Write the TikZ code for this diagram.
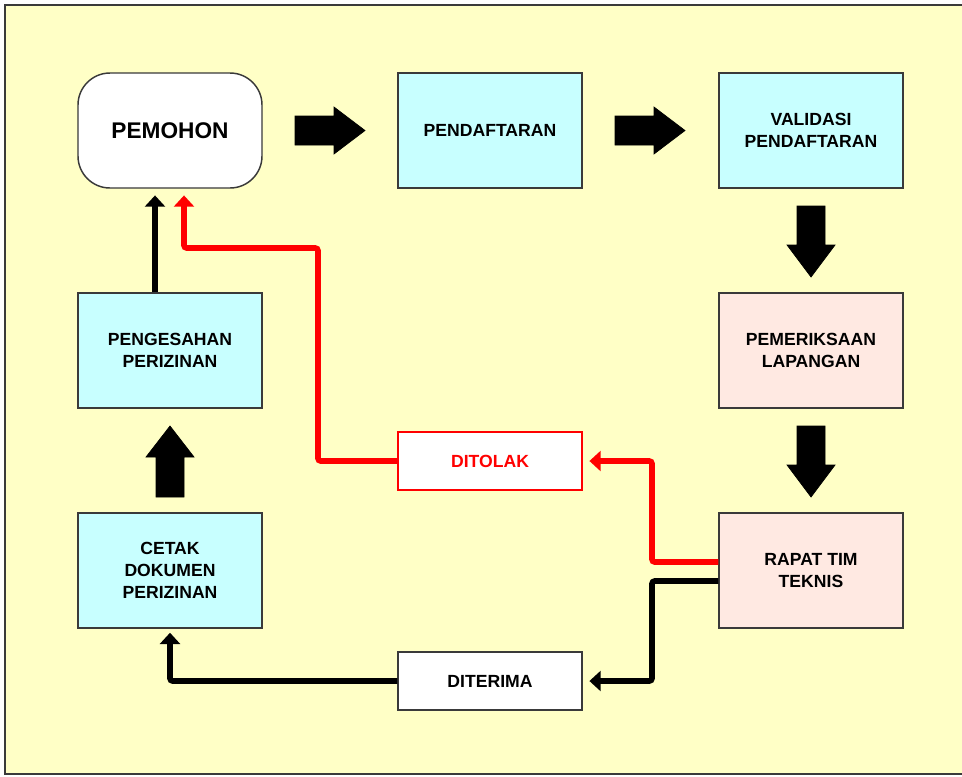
\documentclass[tikz,border=0pt]{standalone}
\usepackage{fontspec}
\setmainfont{Liberation Sans}
\usetikzlibrary{arrows.meta}
\definecolor{bgyellow}{HTML}{FFFFC6}
\definecolor{boxcyan}{HTML}{C8FFFF}
\definecolor{boxpink}{HTML}{FFE9E2}
\definecolor{edgegray}{HTML}{3A3A3A}
\definecolor{linered}{HTML}{FF0000}
\tikzset{
  box/.style={draw=edgegray, line width=1.1pt, minimum width=138pt, minimum height=86.25pt,
    align=center, inner sep=2pt, font=\bfseries\fontsize{13.2}{16.5}\selectfont},
  cyanbox/.style={box, fill=boxcyan},
  pinkbox/.style={box, fill=boxpink},
  startbox/.style={box, fill=white, rounded corners=24pt, font=\bfseries\fontsize{17}{20}\selectfont},
  resultbox/.style={box, fill=white, minimum height=43.5pt},
  blockarrow/.style={fill=black, draw=black, line width=0.5pt, line join=miter},
  blackline/.style={draw=black, line width=4.2pt, rounded corners=2pt, -{Triangle[length=8.5pt,width=15pt]}},
  redline/.style={draw=linered, line width=4.2pt, rounded corners=2pt, -{Triangle[length=8.5pt,width=15pt]}},
  blackplain/.style={draw=black, line width=4.2pt, rounded corners=2pt},
  redplain/.style={draw=linered, line width=4.2pt, rounded corners=2pt},
}
\begin{document}
\begin{tikzpicture}[x=0.75pt,y=-0.75pt]
\useasboundingbox (0,0) rectangle (962,776);
\fill[bgyellow] (5,5) rectangle (975,774);
\draw[edgegray, line width=1.2pt] (975,5) -- (5,5) -- (5,774) -- (975,774);

% nodes
\node[startbox] (pemohon) at (170,130.5) {PEMOHON};
\node[cyanbox] (daftar) at (490,130.5) {PENDAFTARAN};
\node[cyanbox] (valid) at (811,130.5) {VALIDASI\\PENDAFTARAN};
\node[pinkbox] (periksa) at (811,350.5) {PEMERIKSAAN\\LAPANGAN};
\node[pinkbox] (rapat) at (811,570.5) {RAPAT TIM\\TEKNIS};
\node[cyanbox] (sah) at (170,350.5) {PENGESAHAN\\PERIZINAN};
\node[cyanbox] (cetak) at (170,570.5) {CETAK\\DOKUMEN\\PERIZINAN};
\node[resultbox, draw=linered, text=linered] (tolak) at (490,461) {DITOLAK};
\node[resultbox] (terima) at (490,681) {DITERIMA};

% block arrows
\fill[blockarrow] (295,116) -- (334,116) -- (334,107) -- (365,130.5) -- (334,154) -- (334,145) -- (295,145) -- cycle;
\fill[blockarrow] (615,116) -- (654,116) -- (654,107) -- (685,130.5) -- (654,154) -- (654,145) -- (615,145) -- cycle;
\fill[blockarrow] (797,206) -- (825,206) -- (825,245) -- (835,245) -- (811,277) -- (787,245) -- (797,245) -- cycle;
\fill[blockarrow] (797,426) -- (825,426) -- (825,465) -- (835,465) -- (811,497) -- (787,465) -- (797,465) -- cycle;
\fill[blockarrow] (156,497) -- (184,497) -- (184,457) -- (194,457) -- (170,426) -- (146,457) -- (156,457) -- cycle;

% connectors
\draw[blackline, shorten >=5pt] (sah.north -| 155,0) -- (pemohon.south -| 155,0);
\draw[redline, shorten >=5pt] (tolak.west) -| (318,248) -| (pemohon.south -| 184,0);
\draw[redline, shorten >=5pt] (rapat.west |- 0,562) -| (652,461) -- (tolak.east);
\draw[blackline, shorten >=5pt] (rapat.west |- 0,581) -| (652,681) -- (terima.east);
\draw[blackline, shorten >=3pt] (terima.west) -| (cetak.south -| 170,0);
\end{tikzpicture}
\end{document}
